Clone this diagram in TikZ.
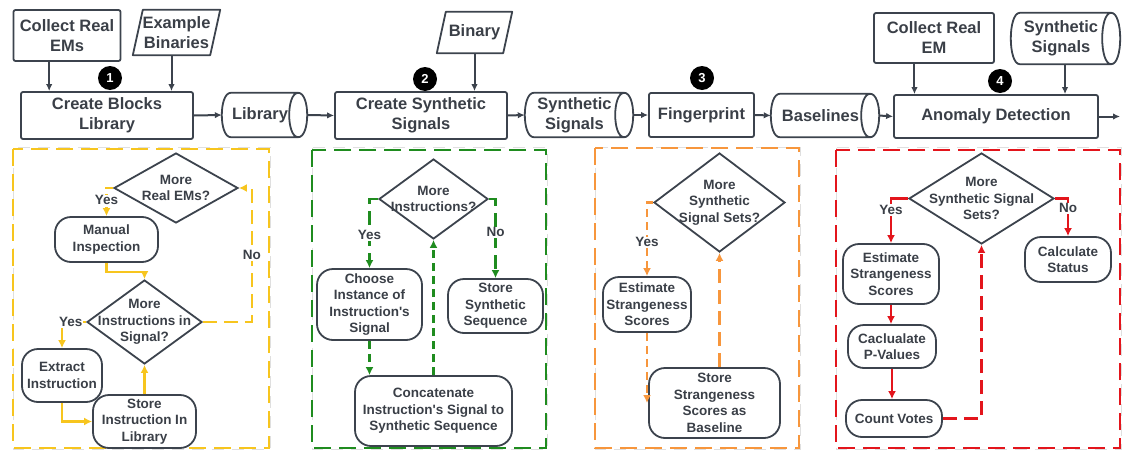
\documentclass[tikz,border=0pt]{standalone}
\usepackage{fontspec}
\setmainfont{Liberation Sans}
\usetikzlibrary{positioning,shapes.geometric,arrows.meta,calc}
\definecolor{txt}{HTML}{3A3F47}
\definecolor{edge}{HTML}{3C434D}
\definecolor{ylw}{HTML}{F7C51E}
\definecolor{grn}{HTML}{1F8C1F}
\definecolor{org}{HTML}{F7963C}
\definecolor{redc}{HTML}{E3151C}
\newcommand{\topfnt}{\fontsize{16.5}{20}\selectfont\bfseries}
\newcommand{\pnlfnt}{\fontsize{13.5}{16.5}\selectfont\bfseries}
% outline of a lying drum round the named node (cap on the right)
\newcommand{\drum}[1]{\draw[edge, line width=1.8pt] ([xshift=9pt]#1.north west) -- (#1.north east)
	.. controls ([xshift=12pt]#1.north east) and ([xshift=12pt]#1.south east) .. (#1.south east)
	.. controls ([xshift=-12pt]#1.south east) and ([xshift=-12pt]#1.north east) .. (#1.north east)
	(#1.south east) -- ([xshift=9pt]#1.south west)
	.. controls ([xshift=-3pt]#1.south west) and ([xshift=-3pt]#1.north west) .. ([xshift=9pt]#1.north west);}
% outline of a slanted input box round the named node
\newcommand{\slab}[2]{\draw[edge, line width=1.8pt, line join=round] ([xshift=#2]#1.north west) -- (#1.north east)
	-- ([xshift=-#2]#1.south east) -- (#1.south west) -- cycle;}
\newcommand{\apo}{\textquotesingle}

\begin{document}
\begin{tikzpicture}[x=1pt,y=-1pt,
	procbox/.style={draw=edge, line width=1.8pt, rounded corners=2pt, align=center, font=\topfnt, text=txt, inner sep=1pt},
	plain/.style={align=center, font=\topfnt, text=txt, inner sep=0pt},
	pill/.style={draw=edge, line width=1.8pt, rounded corners=16pt, align=center, font=\pnlfnt, text=txt, inner sep=1pt},
	dec/.style={diamond, draw=edge, line width=1.8pt, inner sep=0pt},
	dtxt/.style={align=center, font=\pnlfnt, text=txt, inner sep=0pt},
	flow/.style={draw=edge, line width=2pt, -{Latex[length=7pt,width=6.5pt]}},
	badge/.style={circle, fill=black, text=white, font=\fontsize{13}{13}\selectfont\bfseries, minimum size=24pt, inner sep=0pt},
	panel/.style={line width=2.5pt, dash pattern=on 17pt off 8pt},
	link/.style={line width=2.2pt, -{Latex[length=8pt,width=8pt]}},
	shortdash/.style={dash pattern=on 8pt off 5pt},
	longdash/.style={dash pattern=on 14pt off 7pt},
	tag/.style={font=\pnlfnt, text=txt, fill=white, inner sep=1pt}]
			\useasboundingbox (0,0) rectangle (1122,450);
			% top row
			\node[procbox, minimum width=107pt, minimum height=51pt] (cre) at (67,35.5) {Collect Real\\EMs};
			\node[plain, minimum width=87pt, minimum height=45pt] (eb) at (176.5,32.5) {Example\\Binaries};
			\slab{eb}{10pt}
			\node[procbox, minimum width=172pt, minimum height=47pt] (cbl) at (107,115.5) {Create Blocks\\Library};
			\node[plain, minimum width=76pt, minimum height=44pt] (lib) at (260,115) {Library};
			\drum{lib}
			\node[plain, minimum width=75pt, minimum height=41pt] (bin) at (474.5,32.5) {Binary};
			\slab{bin}{9pt}
			\node[procbox, minimum width=172pt, minimum height=47pt] (css) at (421,115.5) {Create Synthetic\\Signals};
			\node[plain, minimum width=99pt, minimum height=44pt] (ssig) at (574.5,115) {Synthetic\\Signals};
			\drum{ssig}
			\node[procbox, minimum width=105pt, minimum height=44pt] (fp) at (701.5,115) {Fingerprint};
			\node[plain, minimum width=99pt, minimum height=43pt] (bl) at (820.5,115.5) {Baselines};
			\drum{bl}
			\node[procbox, minimum width=204pt, minimum height=43pt] (ad) at (996,116.5) {Anomaly Detection};
			\node[procbox, minimum width=120pt, minimum height=50pt] (crem) at (934,38) {Collect Real\\EM};
			\node[plain, minimum width=100pt, minimum height=51pt] (ssig2) at (1061,38.5) {Synthetic\\Signals};
			\drum{ssig2}
			\coordinate (out) at (1120,116.5);
			\node[badge] (n1) at (110,78) {1};
			\node[badge] (n2) at (425,79) {2};
			\node[badge] (n3) at (702,78) {3};
			\node[badge] (n4) at (1000,81) {4};
			\draw[flow] (cre.236) -- (cre.236 |- cbl.north);
			\draw[flow] ([xshift=-5pt]eb.south) -- ([xshift=-5pt]eb.south |- cbl.north);
			\draw[flow] (cbl.east) -- (lib.west);
			\draw[flow] ([xshift=9pt]lib.east) -- (css.west);
			\draw[flow] (bin.south) -- (bin.south |- css.north);
			\draw[flow] (css.east) -- (ssig.west);
			\draw[flow] ([xshift=9pt]ssig.east) -- (fp.west);
			\draw[flow] (fp.east) -- (bl.west);
			\draw[flow] ([xshift=9pt]bl.east) -- (ad.west);
			\draw[flow] (crem.233) -- (crem.233 |- ad.north);
			\draw[flow] ([xshift=4pt]ssig2.south) -- ([xshift=4pt]ssig2.south |- ad.north);
			\draw[flow] (ad.east) -- (out);
			% panels
			\foreach \xa/\xb in {13/270, 312/547, 595/800, 836/1121}
				\draw[gray!25, line width=1pt, dash pattern=on 12pt off 8pt] (\xa,147.5) rectangle (\xb,449);
			\draw[panel, ylw] (13,149) rectangle (269,448);
			\draw[panel, grn] (312,150) rectangle (546,448);
			\draw[panel, org] (595,148) rectangle (799,448);
			\draw[panel, redc] (836,150) rectangle (1120,448);
			% panel 1
			\node[dec, minimum width=124pt, minimum height=70pt, label={[dtxt]center:{More\\Real EMs?}}] (d1) at (176,188) {};
			\node[pill, minimum width=103pt, minimum height=45pt] (mi) at (106.5,239.5) {Manual\\Inspection};
			\node[dec, minimum width=115pt, minimum height=84pt, label={[dtxt]center:{More\\Instructions in\\Signal?}}] (d2) at (144.5,322) {};
			\node[pill, minimum width=80pt, minimum height=53pt] (ex) at (62,375.5) {Extract\\Instruction};
			\node[pill, minimum width=103pt, minimum height=53pt] (st) at (144.5,421.5) {Store\\Instruction In\\Library};
			\draw[link, ylw, shortdash] (d1.west) -| node[tag, pos=0.72] {Yes} (mi.north);
			\draw[link, ylw] (mi.south) -- ++(0,9) -| (d2.north);
			\draw[link, ylw] (d2.west) -| node[tag, pos=0.32] {Yes} (ex.north);
			\draw[link, ylw] (ex.south) |- (st.west);
			\draw[link, ylw] (st.north) -- (d2.south);
			\draw[link, ylw, longdash] (d2.east) -- ++(49,0) |- node[tag, pos=0.25] {No} (d1.east);
			% panel 2
			\node[dec, minimum width=109pt, minimum height=80pt, label={[dtxt]center:{More\\Instructions?}}] (gd) at (433.5,199) {};
			\node[pill, minimum width=105pt, minimum height=71pt] (ch) at (369.5,304.5) {Choose\\Instance of\\Instruction\apo s\\Signal};
			\node[pill, minimum width=95pt, minimum height=54pt] (ss) at (495.5,306) {Store\\Synthetic\\Sequence};
			\node[pill, minimum width=157pt, minimum height=70pt] (cc) at (433.5,411) {Concatenate\\Instruction\apo s Signal to\\Synthetic Sequence};
			\draw[link, grn, longdash] (gd.west) -| node[tag, pos=0.76] {Yes} (ch.north);
			\draw[link, grn, longdash] (gd.east) -| node[tag, pos=0.71] {No} (ss.north);
			\draw[link, grn, shortdash] (ch.south) -- (ch.south |- cc.north);
			\draw[link, grn, shortdash] (cc.north) -- (gd.south);
			% panel 3
			\node[dec, minimum width=131pt, minimum height=99pt, label={[dtxt]center:{More\\Synthetic\\Signal Sets?}}] (od) at (719.5,202.5) {};
			\node[pill, minimum width=88pt, minimum height=55pt] (oe) at (647,304.5) {Estimate\\Strangeness\\Scores};
			\node[pill, minimum width=131pt, minimum height=70pt] (os) at (714.5,403) {Store\\Strangeness\\Scores as\\Baseline};
			\draw[link, org, shortdash] (od.west) -| node[tag, pos=0.77] {Yes} (oe.north);
			\draw[link, org, shortdash] (oe.south) -- (oe.south |- os.west);
			\draw[link, org, longdash] (od.south |- os.north) -- (od.south);
			% panel 4
			\node[dec, minimum width=145pt, minimum height=91pt, label={[dtxt]center:{More\\Synthetic Signal\\Sets?}}] (rd) at (981.5,198.5) {};
			\node[pill, minimum width=96pt, minimum height=60pt] (re) at (891,274) {Estimate\\Strangeness\\Scores};
			\node[pill, minimum width=88pt, minimum height=43pt] (pv) at (892,346.5) {Caclualate\\P-Values};
			\node[pill, minimum width=96pt, minimum height=37pt] (cv) at (894,418.5) {Count Votes};
			\node[pill, minimum width=86pt, minimum height=45pt] (cs) at (1068,259.5) {Calculate\\Status};
			\draw[link, redc] (rd.west) -| node[tag, pos=0.63] {Yes} (re.north);
			\draw[link, redc] (rd.east) -| node[tag, pos=0.63] {No} (cs.north);
			\draw[link, redc] (re.south) -- (re.south |- pv.north);
			\draw[link, redc] (pv.south) -- (pv.south |- cv.north);
			\draw[link, redc, longdash] (cv.east) -| (rd.south);
\end{tikzpicture}
\end{document}
